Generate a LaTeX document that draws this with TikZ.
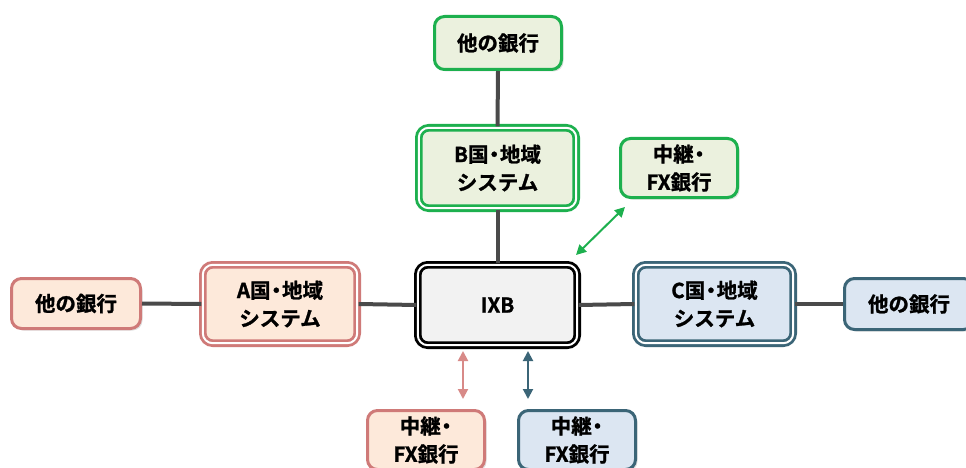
\documentclass[tikz,border=0pt]{standalone}
\usepackage{fontspec}
\setmainfont{Noto Sans CJK JP}[BoldFont={Noto Sans CJK JP Bold},BoldFeatures={FakeBold=1.2}]
\usetikzlibrary{shadows,arrows.meta}
\newcommand\nkg{\kern-0.22em・\kern-0.22em}
\definecolor{gline}{HTML}{4A4A4A}
\definecolor{grn}{HTML}{1DB04E}
\definecolor{grnf}{HTML}{EBF1DE}
\definecolor{redb}{HTML}{CF7A78}
\definecolor{redf}{HTML}{FDE9DA}
\definecolor{redarr}{HTML}{D88A88}
\definecolor{blub}{HTML}{3B6577}
\definecolor{bluf}{HTML}{DCE6F2}
\definecolor{ixbf}{HTML}{F2F2F2}
\tikzset{
  boxbase/.style={rounded corners=10pt, align=center, font=\fontsize{20.5}{28}\selectfont\bfseries,
    inner sep=0pt, drop shadow={opacity=0.25, shadow xshift=2pt, shadow yshift=-2pt}},
  single/.style={boxbase, line width=3pt},
  dbl/.style={boxbase, line width=2.8pt, double=white, double distance=2pt},
  conn/.style={draw=gline, line width=4pt},
  biarrow/.style={line width=2pt, {Triangle[length=10pt,width=10pt]}-{Triangle[length=10pt,width=10pt]}}
}
\begin{document}
\begin{tikzpicture}[x=1pt,y=-1pt]
\clip (0,0) rectangle (966,468);
\fill[white] (0,0) rectangle (966,468);
% nodes
\node[single, draw=grn, fill=grnf, minimum width=127pt, minimum height=53pt] (otop) at (498,43) {他の銀行};
\node[dbl, draw=grn, fill=grnf, minimum width=157.4pt, minimum height=80.4pt] (bsys) at (497.5,168) {B国\nkg 地域\\システム};
\node[single, draw=grn, fill=grnf, minimum width=117pt, minimum height=59pt] (grel) at (679,168) {中継\nkg\\FX銀行};
\node[dbl, draw=redb, fill=redf, minimum width=154.4pt, minimum height=78.4pt] (asys) at (280,304) {A国\nkg 地域\\システム};
\node[single, draw=redb, fill=redf, minimum width=129pt, minimum height=50pt] (oleft) at (76,303.5) {他の銀行};
\node[dbl, draw=black, fill=ixbf, minimum width=159.4pt, minimum height=80.4pt] (ixb) at (497.5,305) {IXB};
\node[dbl, draw=blub, fill=bluf, minimum width=157.4pt, minimum height=78.4pt] (csys) at (714.5,304) {C国\nkg 地域\\システム};
\node[single, draw=blub, fill=bluf, minimum width=129pt, minimum height=51pt] (oright) at (909,304) {他の銀行};
\node[single, draw=redb, fill=redf, minimum width=117pt, minimum height=59pt] (rrel) at (426,440) {中継\nkg\\FX銀行};
\node[single, draw=blub, fill=bluf, minimum width=117pt, minimum height=59pt] (brel) at (577,440) {中継\nkg\\FX銀行};
% connectors
\draw[conn] (otop.south) -- (bsys.north);
\draw[conn] (bsys.south) -- (ixb.north);
\draw[conn] (oleft.east) -- (asys.west);
\draw[conn] (asys.east) -- (ixb.west);
\draw[conn] (ixb.east) -- (csys.west);
\draw[conn] (csys.east) -- (oright.west);
% arrows
\coordinate (ga1) at (576,255);
\coordinate (ga2) at (625,207);
\draw[biarrow, draw=grn, fill=grn] (ga1) -- (ga2);
\coordinate (ra1) at (463,351);
\coordinate (ra2) at (463,399);
\draw[biarrow, draw=redarr, fill=redarr] (ra1) -- (ra2);
\coordinate (ba1) at (528,351);
\coordinate (ba2) at (528,399);
\draw[biarrow, draw=blub, fill=blub] (ba1) -- (ba2);
\end{tikzpicture}
\end{document}
